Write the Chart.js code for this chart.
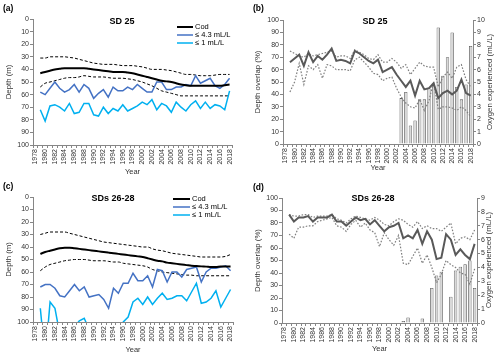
<!DOCTYPE html>
<html><head><meta charset="utf-8">
<script src="https://cdn.jsdelivr.net/npm/chart.js@4.4.1/dist/chart.umd.min.js"></script>
<style>
html,body{margin:0;padding:0;background:#fff;}
#wrap{position:relative;width:500px;height:357px;overflow:hidden;background:#fff;}
canvas{position:absolute;}
</style></head><body>
<div id="wrap">
<canvas id="ca" width="250" height="178" style="left:0;top:0"></canvas>
<canvas id="cb" width="250" height="178" style="left:250px;top:0"></canvas>
<canvas id="cc" width="250" height="182" style="left:0;top:175px"></canvas>
<canvas id="cd" width="250" height="182" style="left:250px;top:175px"></canvas>
</div>
<script>
// ---------- categories ----------
const years = ['1978','1979','1980','1981','1982','1983','1984','1985','1986','1987','1988','1989','1990','1991','1992','1993','1994','1995','1996','1997','1998','1999','2000','2001','2002','2003','2004','2005','2006','2007','2008','2009','2010','2011','2012','2013','2014','2015','2016','2017','2018'];

// ---------- (a) SD 25 depth (m) ----------
const codA   = [null,43,42,41,40,39.5,39,39,39,39,39,39.5,40,40.5,41,41.5,42,42,42,42.5,43,44,45,46,47,48,49,49.5,50,51,52,52.5,53,53,53,53,53,53,53,52.5,52];
const codAhi = [null,31,31,30,30,30,30,30.5,31,32,33,34,35,35.5,36,36,36,36.5,37,37,37,37.5,38,39,40,40,40,40.5,41,42,43,44,44,44.5,45,45,45,44.5,44,44,44];
const codAlo = [null,54,51,50,49,48,47,46.5,46.5,46,45,45.5,46,46,46,46.5,47,47,47,47.5,48,49,50,51.5,53,55,57,58,59,60,61,61,61,61,61,61,61,61,61,61,61];
const ox43A  = [null,58,60,55,50,55,58,56,52,58,52,55,63,59,56,62,54,57,57,54,56,52,55,58,58,50,50,56,56,54,54,52,53,45,51,49,47,53,55,52,47];
const ox1A   = [null,72,81,69,68,70,73,67,75,74,67,67,76,77,70,75,71,73,68,73,71,69,66,68,64,72,67,69,74,66,70,73,68,65,71,66,71,68,69,72,57];

// ---------- (b) SD 25 overlap (%) and oxygen experienced (mL/L) ----------
const overlapB = [null,null,null,null,null,null,null,null,null,null,null,null,null,null,null,null,null,null,null,null,null,null,null,null,null,37,42,15,19,36,36,45,47,94,55,70,90,46,36,48,79];
const oxyB   = [null,6.6,6.9,7.2,6.3,7.4,6.6,7.1,6.8,7.2,7.7,6.7,6.8,6.7,6.5,7.5,7.3,7.0,6.7,6.5,6.8,5.8,6.0,6.2,5.6,5.1,4.6,5.1,3.9,5.1,4.4,4.5,4.9,3.7,4.1,4.3,4.0,4.3,5.2,4.1,3.9];
const oxyBhi = [null,7.5,7.3,7.1,7.0,7.3,7.1,7.2,7.3,7.4,7.5,7.0,7.1,7.1,6.9,7.6,7.4,7.2,6.9,6.8,7.2,6.6,6.6,6.9,6.6,6.1,6.4,5.6,6.1,6.6,6.3,6.2,6.2,4.6,5.4,5.8,5.3,6.2,6.4,5.2,4.6];
const oxyBlo = [null,4.2,5.0,6.5,4.8,6.3,6.0,6.4,5.3,6.4,6.3,6.0,6.0,6.0,5.9,6.8,7.0,6.6,6.2,5.7,5.6,5.1,5.3,5.4,4.5,3.8,3.3,3.0,2.9,3.6,2.7,3.5,5.0,2.8,3.0,3.0,2.9,2.7,3.0,2.7,2.2];

// ---------- (c) SDs 26-28 depth (m) ----------
const codC   = [null,45.5,44,43,42,41,40.5,40.5,41,41.5,42,42.5,43,43.5,44,44.5,45,45.5,46,46.5,47,47.5,48,49,50,51,51.5,52.5,53,53.5,54,54.5,55,55.2,55.5,55.7,56,56,55.5,55.5,55.5];
const codChi = [null,30,29,28,28,28,28,29,30,31,32,33,34,35,36,36.5,37,37.5,38,38.5,39,39.5,40,40,41.5,42.5,43,44,45,45.5,46,46.5,47,47.5,48,48,48,48,48,47.5,46];
const codClo = [null,59,56,54,53,52,51,50.5,50,50,50,50.5,51,51,51,51.5,52,52,53,53.5,54,54.5,55,56,58,59,60,60.5,61,61.5,62,62.5,62.5,63,63,63,63,63,63,63,63];
const ox43C  = [null,72,70,70,73,79,80,75,70,75,72,80,79,78,82,89,73,77,69,69,61,67,67,63,72,58,59,68,60,60,64,58,57,56,68,60,57,57,56,55,59];
const ox1C   = [null,89,130,84,89,110,120,115,104,99,97,106,115,115,115,115,115,108,100,96,84,81,86,80,86,81,77,82,81,79,79,83,76,69,85,84,81,75,88,81,74];

// ---------- (d) SDs 26-28 overlap (%) and oxygen experienced (mL/L) ----------
const overlapD = [null,null,null,null,null,null,null,null,null,null,null,null,null,null,null,null,null,null,null,null,null,null,null,null,null,1.6,4.5,0,0,3.7,0,28,38,41,0,21,42,45,47,50,28];
const oxyD   = [null,7.8,7.3,7.6,7.6,7.7,7.3,7.6,7.6,7.6,7.8,7.3,7.3,7.0,7.3,7.6,7.4,7.5,7.1,7.4,7.0,6.6,6.9,7.0,7.2,6.1,6.3,6.1,6.7,5.7,6.6,6.0,4.6,4.7,6.4,6.0,4.9,5.3,4.9,4.6,5.7];
const oxyDhi = [null,7.8,7.7,7.7,7.8,7.8,7.6,7.7,7.7,7.7,7.8,7.5,7.4,7.2,7.5,7.7,7.6,7.5,7.4,7.6,7.4,7.1,7.0,7.3,7.5,7.4,7.1,6.9,7.3,6.8,7.0,6.8,6.8,6.6,6.9,7.2,5.7,6.1,6.2,6.0,6.7];
const oxyDlo = [null,6.4,6.1,6.9,6.9,7.0,7.0,7.3,7.4,7.5,7.6,7.0,6.9,6.6,7.1,7.4,6.9,7.2,6.7,6.5,5.5,6.5,6.0,5.6,6.3,4.3,4.2,4.8,5.4,4.3,4.9,4.0,2.9,3.5,4.5,4.2,4.0,3.6,3.5,2.8,3.9];

// ---------- styling ----------
const FF = '"Liberation Sans", Arial, Helvetica, sans-serif';
const AX = '#868686';
const TX = '#333333';
const BLUE = '#4472C4';
const LBLUE = '#00B0F0';

const deco = {
  id: 'deco',
  afterDraw(chart, args, o) {
    const ctx = chart.ctx;
    const ca = chart.chartArea;
    ctx.save();
    ctx.fillStyle = '#000';
    ctx.textBaseline = 'middle';
    ctx.font = 'bold 8.5px ' + FF;
    ctx.textAlign = 'left';
    ctx.fillText(o.label, o.labelX, o.labelY);
    ctx.font = 'bold 9px ' + FF;
    ctx.textAlign = 'center';
    ctx.fillText(o.title, o.titleX, o.titleY);
    if (o.legend) {
      ctx.font = '7.5px ' + FF;
      ctx.textAlign = 'left';
      o.legend.forEach((it, k) => {
        const ds = chart.data.datasets[it.ds];
        const y = o.legY + k * 8;
        ctx.strokeStyle = ds.borderColor;
        ctx.lineWidth = ds.borderWidth;
        ctx.setLineDash([]);
        ctx.beginPath();
        ctx.moveTo(o.legX0, y); ctx.lineTo(o.legX1, y);
        ctx.stroke();
        ctx.fillStyle = '#000';
        ctx.fillText(ds.label, o.legX1 + 2, y);
      });
    }
    if (o.rightTitle) {
      ctx.font = '7.8px ' + FF;
      ctx.fillStyle = TX;
      ctx.textAlign = 'center';
      ctx.translate(o.rtX, o.rtY);
      ctx.rotate(-Math.PI / 2);
      ctx.fillText(o.rightTitle, 0, 0);
    }
    ctx.restore();
  }
};

function xScale(h, titlePad) {
  return {
    type: 'category', offset: true,
    grid: {display: true, drawOnChartArea: false, drawTicks: true, tickLength: 3, color: AX, offset: true},
    border: {display: true, color: AX, width: 1},
    ticks: {autoSkip: false, maxRotation: 90, minRotation: 90, padding: 1, color: TX, font: {size: 7, family: FF},
      callback: function (v) { const y = this.getLabelForValue(v); return (parseInt(y, 10) % 2 === 0) ? y : ''; }},
    title: {display: true, text: 'Year', color: TX, font: {size: 7.5, family: FF}, padding: {top: 0, bottom: titlePad}},
    afterFit: s => { s.height = h; }
  };
}
function yScale(opt) {
  return {
    type: 'linear', position: opt.position || 'left', reverse: !!opt.reverse,
    min: 0, max: opt.max, 
    grid: {display: true, drawOnChartArea: false, drawTicks: true, tickLength: 3, color: AX},
    border: {display: true, color: AX, width: 1},
    ticks: {stepSize: opt.step, padding: 1, color: TX, font: {size: 7, family: FF}},
    title: opt.title ? {display: true, text: opt.title, color: TX, font: {size: 7.8, family: FF}, padding: {top: opt.tpad || 0, bottom: 0}} : {display: false},
    afterFit: s => { s.width = opt.w; }
  };
}
function lineDS(label, data, color, width, dash, smooth, axis) {
  return {type: 'line', label: label, data: data, borderColor: color, backgroundColor: color, borderWidth: width,
    borderDash: dash || [], pointRadius: 0, pointHoverRadius: 0, tension: smooth ? 0.4 : 0,
    cubicInterpolationMode: smooth ? 'monotone' : 'default', fill: false, spanGaps: false,
    yAxisID: axis || 'y', order: 1};
}
const common = {
  responsive: false, animation: false, devicePixelRatio: 1,
  plugins: {legend: {display: false}, tooltip: {enabled: false}}
};

// ---------- (a) ----------
new Chart(document.getElementById('ca'), {
  type: 'line',
  data: {labels: years, datasets: [
    lineDS('Cod', codA, '#000', 2, null, true),
    lineDS('≤ 4.3 mL/L', ox43A, BLUE, 1.5),
    lineDS('≤ 1 mL/L', ox1A, LBLUE, 1.5),
    lineDS('Cod upper', codAhi, '#000', 1, [3, 2], true),
    lineDS('Cod lower', codAlo, '#000', 1, [3, 2], true)
  ]},
  options: Object.assign({}, common, {
    layout: {padding: {top: 19, left: 0, right: 18, bottom: 0}},
    scales: {x: xScale(33, 1.5), y: yScale({reverse: true, max: 100, step: 10, title: 'Depth (m)', w: 33, tpad: 4})},
    plugins: Object.assign({}, common.plugins, {deco: {label: '(a)', labelX: 3, labelY: 9, title: 'SD 25', titleX: 122, titleY: 22,
      legend: [{ds: 0}, {ds: 1}, {ds: 2}], legX0: 177, legX1: 193, legY: 27}})
  }),
  plugins: [deco]
});

// ---------- (b) ----------
function overlapChart(id, bars, oxy, hi, lo, o) {
  new Chart(document.getElementById(id), {
    type: 'bar',
    data: {labels: years, datasets: [
      {type: 'bar', label: 'Depth overlap', data: bars, backgroundColor: '#d9d9d9', borderColor: '#5a5a5a', borderWidth: 0.8,
        categoryPercentage: 1, barPercentage: 0.72, yAxisID: 'y', order: 2},
      lineDS('Oxygen experienced', oxy, '#595959', 2, null, false, 'y2'),
      lineDS('Oxygen upper', hi, '#7f7f7f', 1.2, [1.6, 1.6], false, 'y2'),
      lineDS('Oxygen lower', lo, '#7f7f7f', 1.2, [1.6, 1.6], false, 'y2')
    ]},
    options: Object.assign({}, common, {
      layout: {padding: {top: o.top, left: 0, right: 0, bottom: 0}},
      scales: {
        x: xScale(o.xh, o.tpad),
        y: yScale({max: 100, step: 10, title: 'Depth overlap (%)', w: o.lw, tpad: 3}),
        y2: yScale({position: 'right', max: o.rmax, step: 1, w: o.rw})
      },
      plugins: Object.assign({}, common.plugins, {deco: {label: o.label, labelX: 3, labelY: o.labelY, title: o.title, titleX: o.titleX, titleY: o.titleY,
        rightTitle: 'Oxygen experienced (mL/L)', rtX: o.rtX, rtY: o.rtY}})
    }),
    plugins: [deco]
  });
}
overlapChart('cb', overlapB, oxyB, oxyBhi, oxyBlo,
  {top: 20, xh: 34, tpad: 5.5, lw: 33, rw: 27, rmax: 10, label: '(b)', labelY: 9, title: 'SD 25', titleX: 125, titleY: 22, rtX: 240, rtY: 82});

// ---------- (c) ----------
new Chart(document.getElementById('cc'), {
  type: 'line',
  data: {labels: years, datasets: [
    lineDS('Cod', codC, '#000', 2, null, true),
    lineDS('≤ 4.3 mL/L', ox43C, BLUE, 1.5),
    lineDS('≤ 1 mL/L', ox1C, LBLUE, 1.5),
    lineDS('Cod upper', codChi, '#000', 1, [3, 2], true),
    lineDS('Cod lower', codClo, '#000', 1, [3, 2], true)
  ]},
  options: Object.assign({}, common, {
    layout: {padding: {top: 22, left: 0, right: 17, bottom: 0}},
    scales: {x: xScale(35, 2.5), y: yScale({reverse: true, max: 100, step: 10, title: 'Depth (m)', w: 33, tpad: 4})},
    plugins: Object.assign({}, common.plugins, {deco: {label: '(c)', labelX: 3, labelY: 12, title: 'SDs 26-28', titleX: 113, titleY: 24,
      legend: [{ds: 0}, {ds: 1}, {ds: 2}], legX0: 173, legX1: 190, legY: 24}})
  }),
  plugins: [deco]
});

// ---------- (d) ----------
overlapChart('cd', overlapD, oxyD, oxyDhi, oxyDlo,
  {top: 23, xh: 34, tpad: 3.5, lw: 32, rw: 23, rmax: 9, label: '(d)', labelY: 13, title: 'SDs 26-28', titleX: 123, titleY: 24, rtX: 239, rtY: 85});
</script>
</body></html>
